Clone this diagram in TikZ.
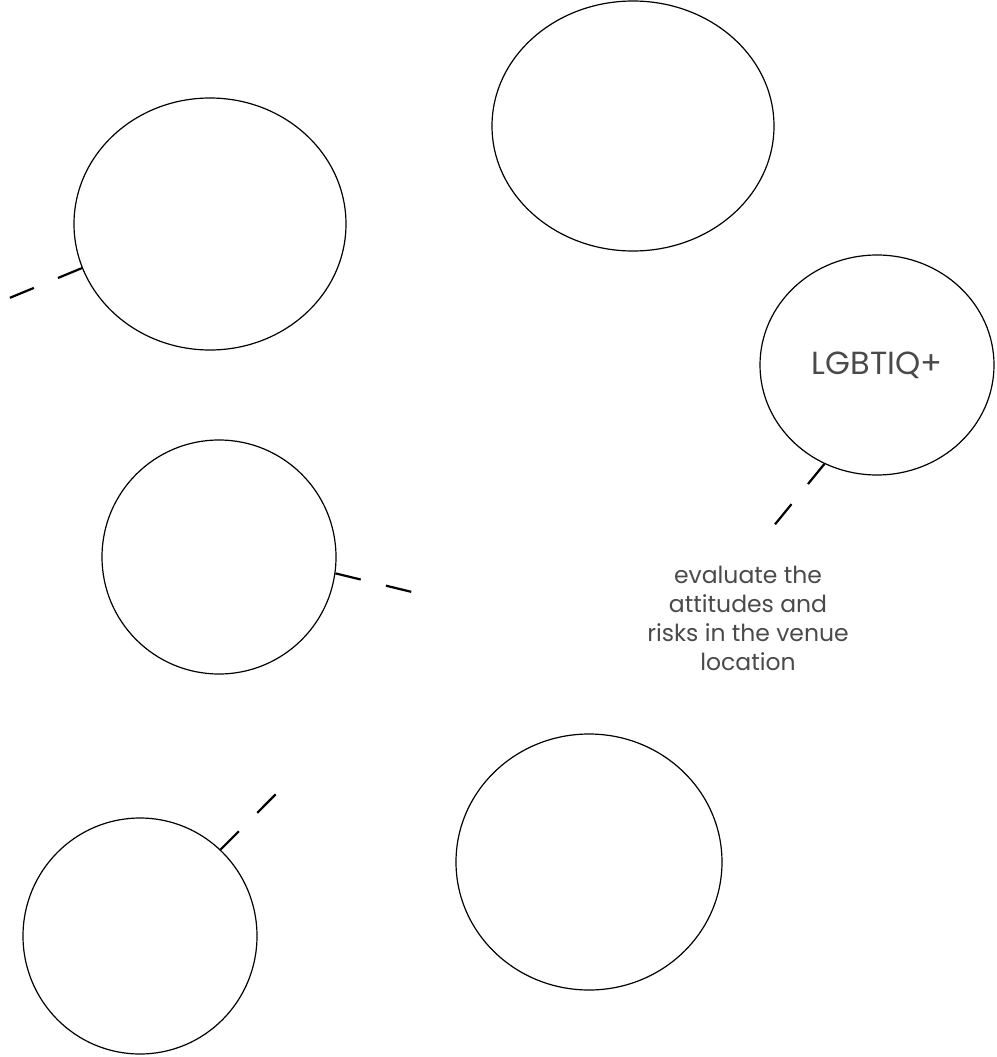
\documentclass[tikz,border=0pt]{standalone}
\usepackage{fontspec}
\setmainfont{Poppins}
\usetikzlibrary{shapes.geometric}
\definecolor{txt}{HTML}{4A4A4A}
\begin{document}
\begin{tikzpicture}[x=1pt,y=-1pt,
  bubble/.style={draw, ellipse, line width=1.2pt, inner sep=0pt},
  dashlink/.style={line width=2.2pt, dash pattern=on 26pt off 26pt},
  label/.style={text=txt, align=center}]
\useasboundingbox (0,0) rectangle (996,1057);
\node[bubble, minimum width=282pt, minimum height=250pt] (top) at (633,126) {};
\node[bubble, minimum width=272pt, minimum height=252pt] (lefttop) at (210,224) {};
\node[bubble, minimum width=234pt, minimum height=220pt, font=\fontsize{32}{38}\selectfont, text=txt] (lgbt) at (877,365) {LGBTIQ+};
\node[bubble, minimum width=234pt, minimum height=234pt] (midleft) at (219,557) {};
\node[bubble, minimum width=266pt, minimum height=256pt] (botright) at (589,862) {};
\node[bubble, minimum width=234pt, minimum height=236pt] (botleft) at (140,936) {};
\node[label, font=\fontsize{23.5}{29}\selectfont] (note) at (748,618) {evaluate the\\attitudes and\\risks in the venue\\location};
\coordinate (e1) at (7,299);
\coordinate (e2) at (412,592);
\coordinate (e3) at (772,528);
\coordinate (e4) at (276,794);
\draw[dashlink] (lefttop.199) -- (e1);
\draw[dashlink] (midleft.-8.4) -- (e2);
\draw[dashlink] (lgbt.242) -- (e3);
\draw[dashlink] (botleft.47.8) -- (e4);
\end{tikzpicture}
\end{document}
